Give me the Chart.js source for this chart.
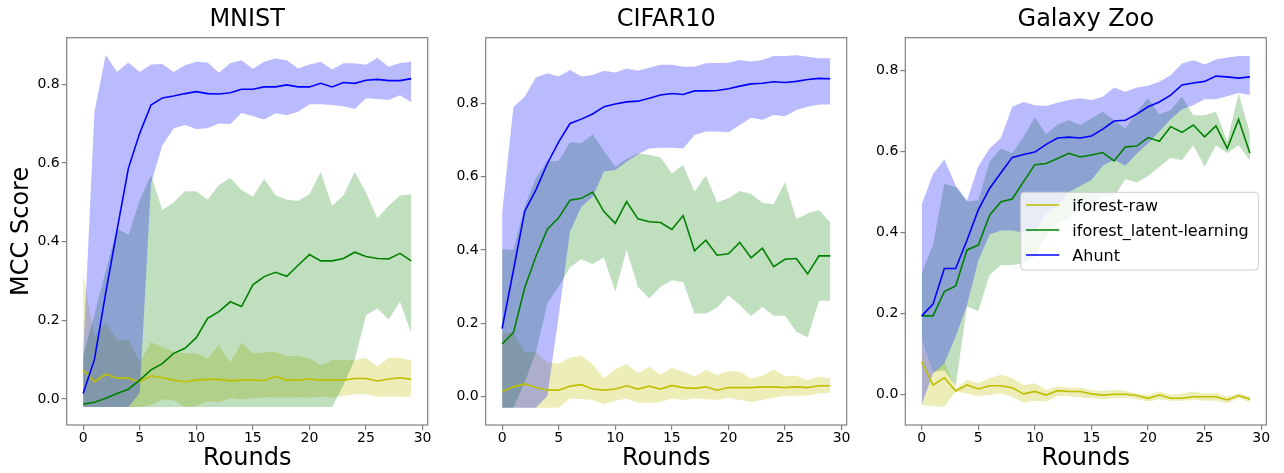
<!DOCTYPE html>
<html>
<head>
<meta charset="utf-8">
<script src="https://cdn.jsdelivr.net/npm/chart.js@4/dist/chart.umd.min.js"></script>
<style>
  body { margin: 0; background: #fff; }
  #wrap { position: relative; width: 1284px; height: 473px; }
  canvas { position: absolute; top: 0; }
</style>
</head>
<body>
<div id="wrap">
  <canvas id="c0" width="440" height="473" style="left:0"></canvas>
  <canvas id="c1" width="420" height="473" style="left:440px"></canvas>
  <canvas id="c2" width="424" height="473" style="left:860px"></canvas>
</div>
<script>
// x values and ticks
const rounds = [0,1,2,3,4,5,6,7,8,9,10,11,12,13,14,15,16,17,18,19,20,21,22,23,24,25,26,27,28,29];
const xTicks = [0, 5, 10, 15, 20, 25, 30];
const yTicks = [0, 0.2, 0.4, 0.6, 0.8];

const seriesNames = ["iforest-raw", "iforest_latent-learning", "Ahunt"];
const lineColors = ["#bfbf00", "#008000", "#0000ff"];
const bandColors = ["rgba(191,191,0,0.28)", "rgba(0,128,0,0.25)", "rgba(0,0,255,0.27)"];

// MNIST
const mnistRawMean = [0.074,0.044,0.063,0.053,0.053,0.044,0.059,0.054,0.048,0.044,0.048,0.05,0.05,0.046,0.048,0.048,0.047,0.057,0.048,0.048,0.051,0.048,0.048,0.048,0.052,0.052,0.046,0.051,0.054,0.05];
const mnistRawHigh = [0.32,0.16,0.193,0.15,0.15,0.095,0.144,0.133,0.12,0.116,0.116,0.103,0.137,0.092,0.143,0.116,0.118,0.12,0.109,0.109,0.103,0.086,0.099,0.099,0.099,0.105,0.082,0.105,0.105,0.097];
const mnistRawLow = [-0.02,-0.02,-0.02,-0.02,-0.02,-0.02,-0.015,-0.001,-0.003,-0.02,-0.018,-0.005,-0.008,0.002,-0.001,0.002,0.004,0.004,0.003,0.004,0.003,0.006,0.003,0.008,0.012,0.012,0.006,0.006,0.006,0.006];
const mnistLatentMean = [-0.013,-0.008,0.002,0.014,0.025,0.048,0.074,0.09,0.116,0.129,0.156,0.205,0.222,0.247,0.235,0.29,0.311,0.322,0.312,0.34,0.367,0.351,0.351,0.357,0.373,0.362,0.357,0.356,0.37,0.351];
const mnistLatentHigh = [0.108,0.216,0.325,0.434,0.417,0.505,0.569,0.48,0.499,0.528,0.528,0.506,0.544,0.562,0.531,0.514,0.559,0.518,0.506,0.503,0.52,0.577,0.491,0.517,0.577,0.525,0.459,0.491,0.517,0.52];
const mnistLatentLow = [-0.02,-0.02,-0.02,-0.02,-0.02,-0.02,-0.02,-0.02,-0.02,-0.02,-0.02,-0.02,-0.02,-0.02,-0.02,-0.02,-0.02,-0.02,-0.02,-0.02,-0.02,-0.02,-0.02,0.035,0.10,0.213,0.23,0.202,0.247,0.167];
const mnistAhuntMean = [0.014,0.10,0.27,0.43,0.586,0.675,0.747,0.765,0.77,0.776,0.781,0.776,0.775,0.778,0.787,0.787,0.793,0.793,0.798,0.793,0.793,0.802,0.793,0.804,0.802,0.81,0.812,0.809,0.809,0.814];
const mnistAhuntHigh = [0.11,0.73,0.874,0.831,0.855,0.831,0.85,0.851,0.831,0.848,0.857,0.855,0.829,0.853,0.861,0.839,0.857,0.865,0.861,0.84,0.85,0.857,0.837,0.853,0.853,0.849,0.867,0.844,0.854,0.857];
const mnistAhuntLow = [-0.02,-0.02,-0.02,-0.02,-0.02,0.015,0.547,0.645,0.687,0.696,0.686,0.688,0.70,0.699,0.727,0.719,0.71,0.726,0.721,0.73,0.749,0.749,0.747,0.744,0.737,0.764,0.762,0.76,0.772,0.754];

// CIFAR10
const cifarRawMean = [0.014,0.027,0.035,0.025,0.018,0.018,0.029,0.033,0.021,0.018,0.021,0.03,0.021,0.029,0.021,0.031,0.025,0.023,0.027,0.018,0.025,0.025,0.025,0.027,0.027,0.025,0.027,0.025,0.03,0.03];
const cifarRawHigh = [0.173,0.175,0.12,0.123,0.093,0.09,0.107,0.112,0.088,0.05,0.075,0.089,0.064,0.082,0.059,0.079,0.068,0.055,0.073,0.059,0.07,0.068,0.05,0.057,0.075,0.056,0.057,0.045,0.055,0.05];
const cifarRawLow = [-0.03,-0.03,-0.03,-0.03,-0.03,-0.03,-0.005,-0.006,-0.009,-0.02,-0.011,-0.005,-0.016,-0.016,-0.014,-0.005,-0.009,-0.005,-0.006,-0.009,-0.003,-0.009,-0.014,-0.009,-0.003,0.003,0.003,0.003,0.009,0.011];
const cifarLatentMean = [0.144,0.175,0.297,0.384,0.457,0.488,0.536,0.541,0.558,0.505,0.473,0.532,0.485,0.477,0.475,0.456,0.494,0.398,0.427,0.386,0.39,0.421,0.379,0.405,0.355,0.375,0.377,0.335,0.384,0.384];
const cifarLatentHigh = [0.403,0.40,0.52,0.597,0.642,0.643,0.694,0.691,0.716,0.67,0.627,0.648,0.664,0.659,0.653,0.609,0.632,0.559,0.603,0.53,0.541,0.561,0.553,0.529,0.525,0.585,0.485,0.50,0.509,0.475];
const cifarLatentLow = [-0.03,-0.03,0.04,0.123,0.255,0.30,0.353,0.375,0.362,0.38,0.286,0.40,0.30,0.268,0.30,0.318,0.312,0.227,0.227,0.243,0.277,0.25,0.22,0.245,0.221,0.221,0.177,0.162,0.262,0.262];
const cifarAhuntMean = [0.186,0.345,0.506,0.565,0.636,0.695,0.745,0.757,0.771,0.791,0.798,0.804,0.806,0.814,0.823,0.827,0.824,0.834,0.834,0.835,0.84,0.847,0.853,0.855,0.859,0.857,0.86,0.865,0.868,0.867];
const cifarAhuntHigh = [0.50,0.79,0.818,0.871,0.882,0.873,0.891,0.873,0.877,0.889,0.884,0.895,0.889,0.897,0.905,0.905,0.9,0.9,0.909,0.91,0.911,0.918,0.914,0.918,0.929,0.929,0.931,0.927,0.923,0.923];
const cifarAhuntLow = [-0.03,-0.03,-0.03,-0.03,0.003,0.22,0.45,0.518,0.545,0.614,0.618,0.641,0.661,0.677,0.679,0.679,0.677,0.714,0.723,0.723,0.721,0.741,0.761,0.755,0.768,0.765,0.782,0.791,0.797,0.797];

// Galaxy Zoo
const galaxyRawMean = [0.081,0.023,0.041,0.008,0.023,0.013,0.021,0.021,0.016,0.001,0.007,-0.002,0.009,0.007,0.007,0.001,-0.002,0,0,-0.003,-0.01,-0.002,-0.01,-0.01,-0.006,-0.006,-0.006,-0.014,-0.003,-0.012];
const galaxyRawHigh = [0.13,0.055,0.08,0.015,0.035,0.027,0.04,0.048,0.04,0.023,0.027,0.011,0.019,0.016,0.016,0.011,0.008,0.011,0.008,0.002,-0.002,0.007,-0.002,0.002,0.007,0.002,0.002,-0.006,0.002,-0.006];
const galaxyRawLow = [-0.026,-0.03,-0.03,0.007,0.002,-0.004,-0.002,0.002,-0.006,-0.021,-0.016,-0.018,-0.004,-0.004,-0.008,-0.01,-0.012,-0.01,-0.008,-0.012,-0.018,-0.012,-0.016,-0.016,-0.014,-0.016,-0.016,-0.022,-0.01,-0.02];
const galaxyLatentMean = [0.194,0.194,0.254,0.268,0.357,0.369,0.443,0.476,0.483,0.526,0.568,0.571,0.583,0.596,0.587,0.592,0.598,0.577,0.612,0.614,0.635,0.626,0.662,0.648,0.666,0.637,0.664,0.608,0.68,0.596];
const galaxyLatentHigh = [0.30,0.37,0.521,0.513,0.476,0.48,0.575,0.608,0.596,0.637,0.685,0.643,0.667,0.678,0.666,0.682,0.699,0.678,0.657,0.699,0.732,0.692,0.703,0.736,0.69,0.69,0.699,0.625,0.744,0.647];
const galaxyLatentLow = [0.134,0.055,0.06,0.02,0.217,0.206,0.295,0.32,0.32,0.324,0.34,0.39,0.423,0.433,0.464,0.472,0.489,0.49,0.532,0.524,0.54,0.563,0.585,0.579,0.616,0.563,0.616,0.596,0.616,0.578];
const galaxyAhuntMean = [0.194,0.223,0.311,0.311,0.381,0.456,0.509,0.548,0.586,0.593,0.599,0.618,0.634,0.636,0.634,0.639,0.656,0.676,0.678,0.693,0.711,0.723,0.74,0.765,0.77,0.774,0.787,0.785,0.782,0.785];
const galaxyAhuntHigh = [0.47,0.545,0.581,0.517,0.479,0.564,0.608,0.634,0.711,0.723,0.715,0.713,0.721,0.728,0.732,0.728,0.736,0.759,0.748,0.759,0.763,0.773,0.789,0.818,0.826,0.816,0.828,0.833,0.837,0.837];
const galaxyAhuntLow = [-0.026,0.052,0.077,0.143,0.22,0.33,0.395,0.405,0.405,0.40,0.405,0.445,0.465,0.50,0.515,0.53,0.565,0.58,0.565,0.595,0.62,0.65,0.68,0.705,0.715,0.73,0.73,0.737,0.745,0.74];

Chart.defaults.font.family = "'DejaVu Sans', sans-serif";
Chart.defaults.color = "#000";

const AXIS_GRAY = "#808080";

const pts = arr => rounds.map((r, i) => ({ x: r, y: arr[i] }));

// frame around the plot area (matplotlib spines)
const framePlugin = {
  id: "frame",
  afterDatasetsDraw(chart) {
    const { ctx, chartArea: a } = chart;
    ctx.save();
    ctx.strokeStyle = AXIS_GRAY;
    ctx.lineWidth = 1.2;
    ctx.strokeRect(a.left, a.top, a.right - a.left, a.bottom - a.top);
    ctx.restore();
  }
};

// legend box drawn inside the plot area
const boxLegend = {
  id: "boxLegend",
  afterDraw(chart, args, opts) {
    if (!opts.show) return;
    const { ctx, chartArea: a } = chart;
    const left = a.left + 115.4, top = a.top + 154.6, w = 237.6, h = 77.7;
    ctx.save();
    ctx.beginPath();
    ctx.roundRect(left, top, w, h, 3.5);
    ctx.fillStyle = "rgba(255,255,255,0.8)";
    ctx.fill();
    ctx.strokeStyle = "#cccccc";
    ctx.lineWidth = 1;
    ctx.stroke();
    ctx.font = "16px 'DejaVu Sans', sans-serif";
    ctx.textBaseline = "alphabetic";
    seriesNames.forEach((name, i) => {
      const y = top + 12.7 + i * 25;
      ctx.strokeStyle = lineColors[i];
      ctx.lineWidth = 1.6;
      ctx.beginPath();
      ctx.moveTo(left + 5.3, y);
      ctx.lineTo(left + 38.6, y);
      ctx.stroke();
      ctx.fillStyle = "#000";
      ctx.fillText(name, left + 51.6, y + 6);
    });
    ctx.restore();
  }
};

function makePanel(id, title, series, yMin, yMax, yWidth, rightPad, showYTitle, showLegend) {
  const datasets = [];
  const fillOrder = [6, 5, 4];
  const lineOrder = [3, 2, 1];
  series.forEach((s, i) => {
    datasets.push({ data: pts(s.low), borderColor: "transparent", borderWidth: 0, pointRadius: 0, fill: false, order: fillOrder[i] });
    datasets.push({ data: pts(s.high), borderColor: "transparent", borderWidth: 0, pointRadius: 0, fill: "-1", backgroundColor: bandColors[i], order: fillOrder[i] });
  });
  series.forEach((s, i) => {
    datasets.push({ label: seriesNames[i], data: pts(s.mean), borderColor: lineColors[i], borderWidth: 1.6, pointRadius: 0, fill: false, order: lineOrder[i] });
  });

  new Chart(document.getElementById(id), {
    type: "line",
    data: { datasets },
    options: {
      responsive: false,
      animation: false,
      layout: { padding: { left: 0, right: rightPad, top: 0, bottom: 0 } },
      plugins: {
        legend: { display: false },
        tooltip: { enabled: false },
        title: {
          display: true, text: title, fullSize: false,
          font: { size: 24, weight: "normal" }, color: "#000",
          padding: { top: 5.7, bottom: 3.2 }
        },
        boxLegend: { show: showLegend }
      },
      scales: {
        x: {
          type: "linear", min: -1.45, max: 30.45,
          afterBuildTicks: sc => { sc.ticks = xTicks.map(v => ({ value: v })); },
          afterFit: sc => { sc.height = 48; },
          grid: { drawOnChartArea: false, drawTicks: true, tickLength: 5, color: AXIS_GRAY, lineWidth: 1.2 },
          border: { display: false },
          ticks: { font: { size: 14 }, padding: 0, maxRotation: 0, autoSkip: false },
          title: { display: true, text: "Rounds", font: { size: 24 }, padding: { top: 0, bottom: 0 } }
        },
        y: {
          min: yMin, max: yMax,
          afterBuildTicks: sc => { sc.ticks = yTicks.map(v => ({ value: v })); },
          afterFit: sc => { sc.width = yWidth; },
          grid: { drawOnChartArea: false, drawTicks: true, tickLength: 5, color: AXIS_GRAY, lineWidth: 1.2 },
          border: { display: false },
          ticks: { font: { size: 14 }, padding: 2, callback: v => v.toFixed(1) },
          title: { display: showYTitle, text: "MCC Score", font: { size: 24 }, padding: { top: 7.2, bottom: 0 } }
        }
      }
    },
    plugins: [framePlugin, boxLegend]
  });
}

makePanel("c0", "MNIST", [
  { mean: mnistRawMean, high: mnistRawHigh, low: mnistRawLow },
  { mean: mnistLatentMean, high: mnistLatentHigh, low: mnistLatentLow },
  { mean: mnistAhuntMean, high: mnistAhuntHigh, low: mnistAhuntLow }
], -0.066, 0.918, 66.7, 12.3, true, false);

makePanel("c1", "CIFAR10", [
  { mean: cifarRawMean, high: cifarRawHigh, low: cifarRawLow },
  { mean: cifarLatentMean, high: cifarLatentHigh, low: cifarLatentLow },
  { mean: cifarAhuntMean, high: cifarAhuntHigh, low: cifarAhuntLow }
], -0.077, 0.979, 45.7, 13.3, false, false);

makePanel("c2", "Galaxy Zoo", [
  { mean: galaxyRawMean, high: galaxyRawHigh, low: galaxyRawLow },
  { mean: galaxyLatentMean, high: galaxyLatentHigh, low: galaxyLatentLow },
  { mean: galaxyAhuntMean, high: galaxyAhuntHigh, low: galaxyAhuntLow }
], -0.076, 0.882, 45.3, 17.7, false, true);
</script>
</body>
</html>
